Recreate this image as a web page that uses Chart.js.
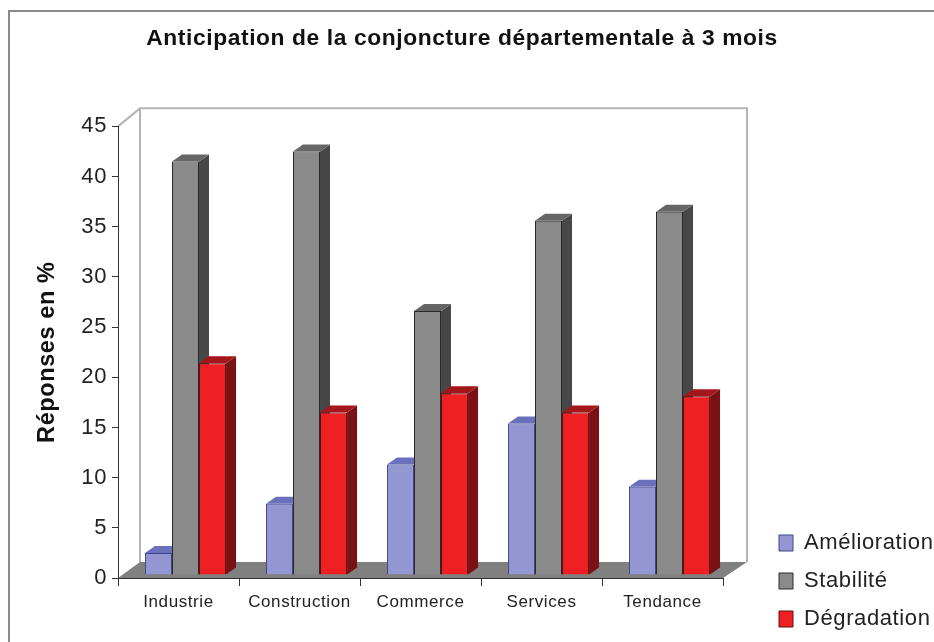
<!DOCTYPE html>
<html><head><meta charset="utf-8">
<style>html,body{margin:0;padding:0;background:#fff}#w{width:934px;height:642px}canvas{filter:blur(0.5px)}</style>
<script src="https://cdn.jsdelivr.net/npm/chart.js@4"></script>
</head><body><div id="w"><canvas id="c" width="934" height="642"></canvas></div>
<script>
const categories = ['Industrie','Construction','Commerce','Services','Tendance'];
const amelioration = [2.2,7.1,11.0,15.1,8.8];
const stabilite = [41.2,42.2,26.3,35.3,36.2];
const degradation = [21.1,16.2,18.1,16.2,17.8];
const yTicks = [0,5,10,15,20,25,30,35,40,45];
const palette = [
 {front:'#9496d2',top:'#6b70bd',side:'#555a9c',edge:'#3d4488'},
 {front:'#8a8a8a',top:'#666666',side:'#474747',edge:'#2a2a2a'},
 {front:'#ee2024',top:'#a3161a',side:'#7a1114',edge:'#5e1012'}
];
const depth={bx:10,by:-7,shiftX:7,shiftY:-3,wallX:22,wallY:-16};
const scene={
 id:'scene',
 afterInit(chart){
  const f=chart.legend.fit;
  chart.legend.fit=function(){f.call(this);this.width=211;};
 },
 beforeUpdate(chart){ chart.ctx.letterSpacing='0.6px'; },
 afterLayout(chart){
  const l=chart.legend; l.left=763; l.right=934; l.top=516; l.bottom=700;
  const t=chart.titleBlock; t.left=0; t.right=924;
 },
 beforeDraw(chart){
  const c=chart.ctx,a=chart.chartArea;
  c.letterSpacing='0.6px';
  c.save();
  c.fillStyle='#fff';c.fillRect(0,0,934,642);
  c.strokeStyle='#8a8a8a';c.lineWidth=2;
  c.beginPath();c.moveTo(934,11);c.lineTo(9,11);c.lineTo(9,642);c.stroke();
  // floor
  c.fillStyle='#808080';
  c.beginPath();c.moveTo(a.left,a.bottom);c.lineTo(a.left+depth.wallX,a.bottom+depth.wallY);
  c.lineTo(a.right+depth.wallX+2,a.bottom+depth.wallY);c.lineTo(a.right,a.bottom);c.closePath();c.fill();
  // walls
  c.strokeStyle='#b4b4b4';c.lineWidth=2;
  c.beginPath();c.moveTo(a.left,a.top);c.lineTo(a.left+depth.wallX,a.top-18);
  c.lineTo(a.right+depth.wallX+2,a.top-18);c.lineTo(a.right+depth.wallX+2,a.bottom+depth.wallY);
  c.moveTo(a.left+depth.wallX,a.top-18);c.lineTo(a.left+depth.wallX,a.bottom+depth.wallY);
  c.stroke();
  c.restore();
 },
 beforeDatasetsDraw(chart){
  const c=chart.ctx;
  c.save();
  c.translate(depth.shiftX,depth.shiftY);
  chart.data.datasets.forEach((d,i)=>{
   chart.getDatasetMeta(i).data.forEach(b=>{
    const x0=b.x-b.width/2,x1=b.x+b.width/2,y=b.y,base=b.base,p=palette[i];
    c.fillStyle=p.side;
    c.beginPath();c.moveTo(x1,y);c.lineTo(x1+depth.bx,y+depth.by);c.lineTo(x1+depth.bx,base+depth.by);c.lineTo(x1,base);c.closePath();c.fill();
    c.fillStyle=p.top;
    c.beginPath();c.moveTo(x0,y);c.lineTo(x0+depth.bx,y+depth.by);c.lineTo(x1+depth.bx,y+depth.by);c.lineTo(x1,y);c.closePath();c.fill();
   });
  });
 },
 afterDatasetsDraw(chart){ chart.ctx.restore(); }
};
const mk=(label,data,i)=>({label,data,backgroundColor:palette[i].front,borderColor:palette[i].edge,borderWidth:1,clip:false,categoryPercentage:0.67,barPercentage:1});
new Chart(document.getElementById('c'),{
 type:'bar',
 data:{labels:categories,datasets:[mk('Amélioration',amelioration,0),mk('Stabilité',stabilite,1),mk('Dégradation',degradation,2)]},
 plugins:[scene],
 options:{
  responsive:false,animation:false,
  layout:{padding:{left:33,right:0,top:0,bottom:0},autoPadding:false},
  scales:{
   x:{grid:{drawOnChartArea:false,drawTicks:true,tickLength:8,color:'#333',offset:true},border:{color:'#333'},
      ticks:{color:'#222',font:{family:'Liberation Sans',size:17},padding:6,maxRotation:0,autoSkip:false},
      afterFit(s){s.height=64;}},
   y:{min:0,max:45,grid:{drawOnChartArea:false,tickLength:6,color:'#333'},border:{color:'#333'},
      afterBuildTicks(s){s.ticks=yTicks.map(v=>({value:v}));},
      ticks:{color:'#222',font:{family:'Liberation Sans',size:22},padding:5},
      title:{display:true,text:'Réponses en %',color:'#111',font:{family:'Liberation Sans',size:23.5,weight:'bold'},padding:0},
      afterFit(s){s.width=85;}}
  },
  plugins:{
   title:{display:true,text:'Anticipation de la conjoncture départementale à 3 mois',color:'#111',font:{family:'Liberation Sans',size:22.8,weight:'bold'},padding:{top:25,bottom:74}},
   legend:{position:'right',align:'start',labels:{boxWidth:14,boxHeight:16,padding:16,color:'#222',font:{family:'Liberation Sans',size:22}}},
   tooltip:{enabled:false}
  }
 }
});
</script></body></html>
